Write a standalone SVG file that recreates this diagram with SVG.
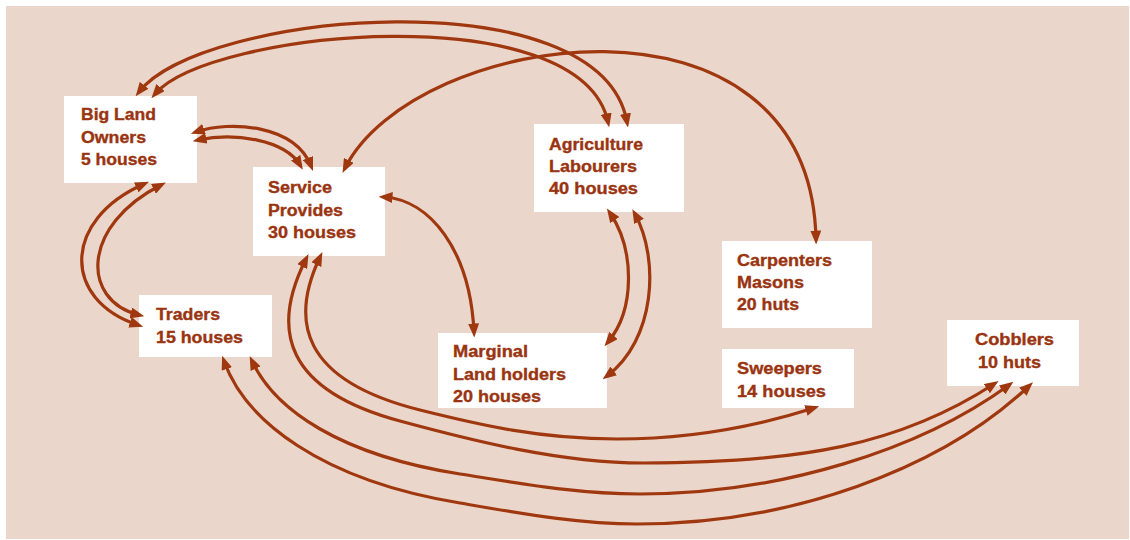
<svg xmlns="http://www.w3.org/2000/svg" width="1130" height="540" viewBox="0 0 1130 540">
<style>
.bg{fill:#EAD6CB}
.box{fill:#FFFFFF}
.t{font-family:"Liberation Sans",Arial,sans-serif;font-weight:bold;font-size:16px;fill:#9A3410;stroke:#9A3410;stroke-width:0.35}
.c{fill:none;stroke:#A0380F;stroke-width:3.2;marker-start:url(#ah);marker-end:url(#ah)}
</style>
<defs>
<marker id="ah" viewBox="0 0 14 11" refX="8.5" refY="5.5" markerWidth="14" markerHeight="11" markerUnits="userSpaceOnUse" orient="auto-start-reverse">
<path d="M0,0 L14,5.5 L0,11 z" fill="#A0380F"/>
</marker>
</defs>
<rect class="bg" x="6" y="6" width="1123" height="533"/>
<g id="node-bigland">
<rect class="box" x="64" y="96" width="133" height="87"/>
<text class="t" x="81" y="120" textLength="75" lengthAdjust="spacingAndGlyphs">Big Land</text>
<text class="t" x="81" y="143" textLength="65" lengthAdjust="spacingAndGlyphs">Owners</text>
<text class="t" x="81" y="165" textLength="76" lengthAdjust="spacingAndGlyphs">5 houses</text>
</g>
<g id="node-service">
<rect class="box" x="253" y="167" width="132" height="89"/>
<text class="t" x="268" y="193" textLength="64" lengthAdjust="spacingAndGlyphs">Service</text>
<text class="t" x="268" y="216" textLength="75" lengthAdjust="spacingAndGlyphs">Provides</text>
<text class="t" x="268" y="238" textLength="88" lengthAdjust="spacingAndGlyphs">30 houses</text>
</g>
<g id="node-traders">
<rect class="box" x="139" y="295" width="133" height="62"/>
<text class="t" x="156" y="320" textLength="64" lengthAdjust="spacingAndGlyphs">Traders</text>
<text class="t" x="156" y="343" textLength="87" lengthAdjust="spacingAndGlyphs">15 houses</text>
</g>
<g id="node-agri">
<rect class="box" x="534" y="124" width="150" height="88"/>
<text class="t" x="549" y="150" textLength="94" lengthAdjust="spacingAndGlyphs">Agriculture</text>
<text class="t" x="549" y="172" textLength="88" lengthAdjust="spacingAndGlyphs">Labourers</text>
<text class="t" x="549" y="194" textLength="89" lengthAdjust="spacingAndGlyphs">40 houses</text>
</g>
<g id="node-marginal">
<rect class="box" x="438" y="333" width="169" height="75"/>
<text class="t" x="453" y="357" textLength="75" lengthAdjust="spacingAndGlyphs">Marginal</text>
<text class="t" x="453" y="380" textLength="113" lengthAdjust="spacingAndGlyphs">Land holders</text>
<text class="t" x="453" y="402" textLength="88" lengthAdjust="spacingAndGlyphs">20 houses</text>
</g>
<g id="node-carpenters">
<rect class="box" x="722" y="241" width="150" height="87"/>
<text class="t" x="737" y="266" textLength="95" lengthAdjust="spacingAndGlyphs">Carpenters</text>
<text class="t" x="737" y="288" textLength="67" lengthAdjust="spacingAndGlyphs">Masons</text>
<text class="t" x="737" y="310" textLength="62" lengthAdjust="spacingAndGlyphs">20 huts</text>
</g>
<g id="node-sweepers">
<rect class="box" x="722" y="349" width="132" height="59"/>
<text class="t" x="737" y="374" textLength="85" lengthAdjust="spacingAndGlyphs">Sweepers</text>
<text class="t" x="737" y="397" textLength="89" lengthAdjust="spacingAndGlyphs">14 houses</text>
</g>
<g id="node-cobblers">
<rect class="box" x="947" y="320" width="132" height="66"/>
<text class="t" x="975" y="345" textLength="79" lengthAdjust="spacingAndGlyphs">Cobblers</text>
<text class="t" x="978" y="368" textLength="63" lengthAdjust="spacingAndGlyphs">10 huts</text>
</g>
<g id="connectors">
<path class="c" d="M139,92 C200,12 600,-25 627,122"/>
<path class="c" d="M155,94 C210,30 580,-5 608,122"/>
<path class="c" d="M196,132 C230,120 295,125 311,166"/>
<path class="c" d="M198,140 C235,132 285,140 300,165"/>
<path class="c" d="M345,168 C415,30 810,-28 816,239"/>
<path class="c" d="M384,197 C430,200 470,250 474,332"/>
<path class="c" d="M610,213 C635,250 635,310 608,342"/>
<path class="c" d="M635,214 C660,260 655,340 607,376"/>
<path class="c" d="M144,184 C62,220 62,300 138,325"/>
<path class="c" d="M161,185 C82,225 80,300 139,315"/>
<path class="c" d="M320,257 C290,320 300,380 420,410 C480,425 540,439 617,439 C700,439 770,422 814,408"/>
<path class="c" d="M306,259 C270,330 285,390 400,421 C470,440 560,463 643,463 C800,463 900,445 994,384"/>
<path class="c" d="M252,361 C275,410 340,455 460,474 C530,485 580,494 640,494 C780,494 920,450 1009,385"/>
<path class="c" d="M224,361 C245,420 320,480 460,503 C530,515 580,524 637,524 C790,524 940,470 1029,386"/>
</g>
</svg>
